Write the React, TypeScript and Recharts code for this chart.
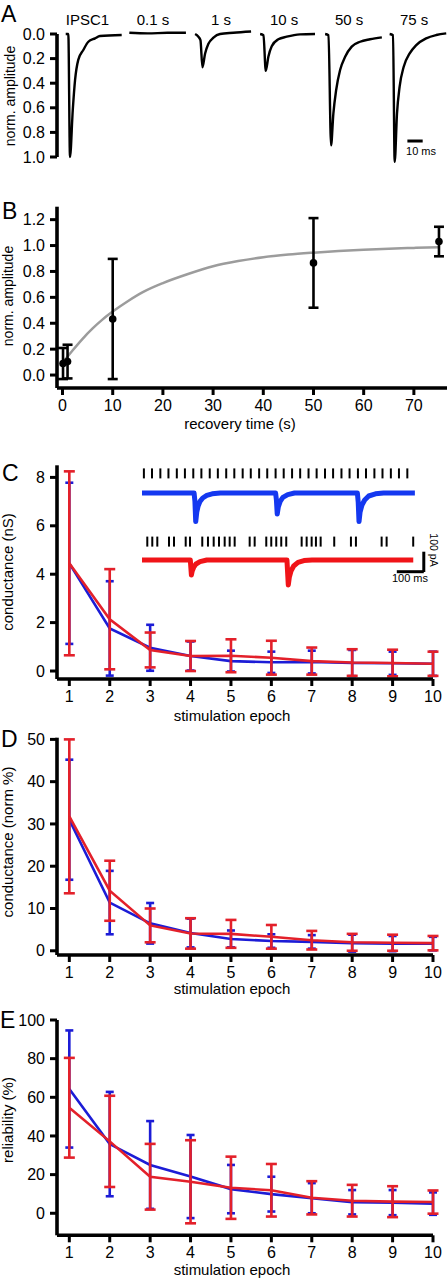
import {
  ComposedChart,
  ErrorBar,
  Line,
  LineChart,
  ReferenceLine,
  Scatter,
  XAxis,
  YAxis,
} from "recharts";

const FONT = '"Liberation Sans", Arial, Helvetica, sans-serif';
const BLUE = "#1c1cd6";
const RED = "#e3202a";
const TRACE_BLUE = "#1438f0";
const TRACE_RED = "#f01418";

// ---------------------------------------------------------------------------
// A: example IPSCs, [ms from sweep onset, normalised amplitude]
// ---------------------------------------------------------------------------

const sweepLabels = ["IPSC1", "0.1 s", "1 s", "10 s", "50 s", "75 s"];
const sweepIpsc1 = [[0, 0], [1.7, 0], [2.8, 1.0], [4.6, 0.62], [6.1, 0.375], [8.2, 0.21], [11.5, 0.13], [14.8, 0.063], [19.2, 0.035], [22.4, 0.016], [36.6, 0.008]];
const sweep01s = [[0, -0.01], [12, -0.005], [25, -0.01], [37, -0.01]];
const sweep1s = [[0, 0], [2, 0.02], [3.5, 0.05], [4.8, 0.27], [6.5, 0.16], [8.7, 0.08], [12, 0.03], [16.3, 0], [25, -0.01], [36.6, -0.02]];
const sweep10s = [[0, 0], [2.2, 0.01], [3.7, 0.3], [5.4, 0.185], [7.6, 0.1], [11.9, 0.043], [17.4, 0.022], [26.1, 0.003], [35.9, 0]];
const sweep50s = [[0, 0], [2.2, 0.01], [3.9, 0.905], [5.4, 0.647], [7.2, 0.457], [9.8, 0.293], [13.1, 0.185], [17.4, 0.103], [22.9, 0.063], [29.4, 0.043], [37.1, 0.027]];
const sweep75s = [[0, 0], [2.2, 0.01], [3.3, 1.04], [4.8, 0.647], [6.5, 0.43], [9.2, 0.266], [13.1, 0.158], [17.4, 0.09], [23.9, 0.035], [30.5, 0.008], [37, -0.005]];

// layout of the sweeps along the shared time axis (ms)
const SWEEP_START_MS = [5.7, 47.3, 90.3, 132.8, 175.3, 217.5];
const SWEEP_LABEL_MS = [19.9, 62.8, 107.3, 148.5, 191, 233.5];

// ---------------------------------------------------------------------------
// B: recovery from depression
// ---------------------------------------------------------------------------

const recoveryTime = [0.1, 1, 10, 50, 75];
const recoveryAmp = [0.089, 0.104, 0.433, 0.866, 1.031];
const recoveryErr = [0.12, 0.13, 0.464, 0.346, 0.114];
const fitTime = [0.1, 2, 4, 6, 8, 10, 13, 16, 20, 25, 30, 35, 40, 45, 50, 55, 60, 65, 70, 75];
const fitAmp = [0.1, 0.19, 0.28, 0.36, 0.43, 0.49, 0.57, 0.64, 0.71, 0.78, 0.84, 0.88, 0.91, 0.93, 0.945, 0.958, 0.968, 0.976, 0.982, 0.987];

// ---------------------------------------------------------------------------
// C-E: per stimulation epoch, blue = regular train, red = irregular train
// ---------------------------------------------------------------------------

const epochs = [1, 2, 3, 4, 5, 6, 7, 8, 9, 10];

const condBlue = [4.45, 1.76, 0.96, 0.62, 0.41, 0.36, 0.37, 0.33, 0.32, 0.3];
const condBlueErr = [3.33, 1.95, 0.95, 0.6, 0.43, 0.44, 0.47, 0.54, 0.48, 0.5];
const condRed = [4.45, 2.14, 0.87, 0.62, 0.63, 0.55, 0.41, 0.35, 0.33, 0.3];
const condRedErr = [3.8, 2.07, 0.72, 0.62, 0.68, 0.7, 0.56, 0.55, 0.55, 0.5];

const normBlue = [31.0, 11.4, 6.5, 4.2, 2.8, 2.3, 2.1, 1.8, 1.7, 1.7];
const normBlueErr = [14.2, 7.5, 4.8, 3.4, 2.0, 1.6, 1.6, 2.0, 1.8, 1.6];
const normRed = [31.8, 14.2, 6.0, 4.1, 4.0, 3.3, 2.5, 2.0, 1.9, 1.8];
const normRedErr = [18.2, 7.1, 4.0, 3.6, 3.3, 2.8, 2.2, 2.0, 1.9, 1.7];

const relBlue = [64.3, 35.8, 25.0, 19.0, 12.5, 9.9, 7.8, 5.7, 5.5, 5.0];
const relBlueErr = [30.3, 27.0, 22.7, 21.5, 12.5, 9.0, 7.8, 6.3, 6.5, 5.8];
const relRed = [54.6, 37.2, 18.9, 16.3, 13.2, 11.9, 8.0, 6.5, 6.0, 5.8];
const relRedErr = [25.8, 23.6, 17.0, 21.5, 16.1, 13.6, 8.6, 8.2, 8.0, 6.0];

// C inset: example currents (ms, pA from baseline) and stimulus times (ms)
const blueSweep = [[0, 0], [193, 0], [196, -40], [199, -143], [203, -95], [208, -65], [215, -42], [225, -25], [240, -12], [260, -4], [290, 0], [495, 0], [498, -35], [501, -105], [505, -70], [512, -42], [522, -22], [540, -8], [565, 0], [798, 0], [801, -45], [804, -143], [808, -95], [815, -60], [825, -35], [840, -15], [865, -4], [895, 0], [1011, 0]];
const redSweep = [[0, 0], [179, 0], [183, -75], [186, -55], [192, -35], [200, -20], [215, -8], [240, 0], [537, 0], [542, -125], [546, -85], [552, -55], [562, -30], [578, -12], [600, -3], [630, 0], [1005, 0]];
const blueStimuli = [7, 37, 68, 98, 129, 159, 190, 220, 251, 281, 312, 342, 373, 403, 434, 464, 495, 525, 556, 586, 617, 647, 678, 708, 739, 769, 800, 830, 861, 891, 922, 952, 983];
const redStimuli = [19.6, 38.1, 56.7, 100, 118.5, 161.9, 177.8, 223.3, 244.4, 265.6, 285.2, 306.3, 324.8, 343.3, 398.9, 417.4, 460.4, 478.9, 497.4, 515.9, 534.4, 591.5, 610, 628.5, 644.4, 661.9, 712.2, 774.1, 792.6, 887.8, 906.3, 1004.8];

// inset stacking offsets (pA)
const RED_OFFSET = -335;
const BLUE_RASTER_Y = 98;
const RED_RASTER_Y = -243;

// ---------------------------------------------------------------------------
// shared styles
// ---------------------------------------------------------------------------

const axisLine = { stroke: "#000", strokeWidth: 3.6 };
const tickLine = { stroke: "#000", strokeWidth: 3 };
const tickText = { fill: "#000", fontSize: 16, fontFamily: FONT };

const toPoints = (pairs: number[][], shift = 0, offset = 0) =>
  pairs.map(([t, v]) => ({ t: t + shift, v: v + offset }));

function PanelA() {
  const sweeps = [sweepIpsc1, sweep01s, sweep1s, sweep10s, sweep50s, sweep75s];
  return (
    <div style={{ position: "absolute", left: 0, top: 0 }}>
      <ComposedChart width={447} height={175} margin={{ top: 10.31, right: 0, bottom: 8.16, left: 0 }}>
        <XAxis
          type="number"
          dataKey="t"
          orientation="top"
          domain={[0, 255]}
          ticks={SWEEP_LABEL_MS}
          interval={0}
          tickFormatter={(v: number) => sweepLabels[SWEEP_LABEL_MS.indexOf(v)] ?? ""}
          axisLine={false}
          tickLine={false}
          tickSize={0}
          tickMargin={5.3}
          height={20}
          tick={{ ...tickText, fontSize: 15 }}
        />
        <YAxis
          type="number"
          domain={[-0.03, 1.08]}
          reversed
          ticks={[0, 0.2, 0.4, 0.6, 0.8, 1.0]}
          interval={0}
          tickFormatter={(v: number) => v.toFixed(1)}
          width={57}
          axisLine={false}
          tickLine={tickLine}
          tickSize={7}
          tickMargin={5}
          tick={tickText}
        />
        <ReferenceLine segment={[{ x: 0, y: 0 }, { x: 0, y: 1 }]} stroke="#000" strokeWidth={3.6} ifOverflow="visible" />
        {sweeps.map((s, i) => (
          <Line
            key={sweepLabels[i]}
            data={toPoints(s, SWEEP_START_MS[i])}
            dataKey="v"
            type="monotone"
            stroke="#000"
            strokeWidth={2.4}
            dot={false}
            isAnimationActive={false}
          />
        ))}
        {/* 10 ms scale bar */}
        <ReferenceLine segment={[{ x: 229.1, y: 0.87 }, { x: 239.1, y: 0.87 }]} stroke="#000" strokeWidth={3} ifOverflow="visible" />
      </ComposedChart>
    </div>
  );
}

function PanelB() {
  const points = recoveryTime.map((t, i) => ({ t, v: recoveryAmp[i], err: recoveryErr[i] }));
  const fit = fitTime.map((t, i) => ({ t, v: fitAmp[i] }));
  return (
    <div style={{ position: "absolute", left: 0, top: 170 }}>
      <ComposedChart width={447} height={265} margin={{ top: 36.7, right: 0, bottom: 0, left: 0 }}>
        <XAxis
          type="number"
          dataKey="t"
          domain={[-1.1, 76.6]}
          ticks={[0, 10, 20, 30, 40, 50, 60, 70]}
          interval={0}
          height={47}
          axisLine={axisLine}
          tickLine={tickLine}
          tickSize={7}
          tickMargin={5}
          tick={tickText}
        />
        <YAxis
          type="number"
          domain={[-0.1, 1.3]}
          ticks={[0, 0.2, 0.4, 0.6, 0.8, 1.0, 1.2]}
          interval={0}
          tickFormatter={(v: number) => v.toFixed(1)}
          width={57}
          axisLine={axisLine}
          tickLine={tickLine}
          tickSize={7}
          tickMargin={5}
          tick={tickText}
        />
        <Line data={fit} dataKey="v" type="monotone" stroke="#9c9c9c" strokeWidth={2.5} dot={false} isAnimationActive={false} />
        <Scatter
          data={points}
          dataKey="v"
          isAnimationActive={false}
          shape={(p: any) => <circle cx={p.cx} cy={p.cy} r={3.8} fill="#000" />}
        >
          <ErrorBar dataKey="err" direction="y" width={5} stroke="#000" strokeWidth={2.6} />
        </Scatter>
      </ComposedChart>
    </div>
  );
}

interface EpochPanelProps {
  top: number;
  height: number;
  marginTop: number;
  xAxisHeight: number;
  labelGap: number;
  yDomain: [number, number];
  yTicks: number[];
  blue: number[];
  blueErr: number[];
  red: number[];
  redErr: number[];
}

function EpochPanel(p: EpochPanelProps) {
  const data = epochs.map((e, i) => ({
    epoch: e,
    blue: p.blue[i],
    blueErr: p.blueErr[i],
    red: p.red[i],
    redErr: p.redErr[i],
  }));
  return (
    <div style={{ position: "absolute", left: 0, top: p.top }}>
      <LineChart width={447} height={p.height} data={data} margin={{ top: p.marginTop, right: 14, bottom: 0, left: 0 }}>
        <XAxis
          type="number"
          dataKey="epoch"
          domain={[0.695, 10]}
          ticks={epochs}
          interval={0}
          height={p.xAxisHeight}
          axisLine={axisLine}
          tickLine={tickLine}
          tickSize={7}
          tickMargin={p.labelGap}
          tick={tickText}
        />
        <YAxis
          type="number"
          domain={p.yDomain}
          ticks={p.yTicks}
          interval={0}
          width={57}
          axisLine={axisLine}
          tickLine={tickLine}
          tickSize={7}
          tickMargin={5}
          tick={tickText}
        />
        <Line dataKey="blue" stroke={BLUE} strokeWidth={2.6} dot={false} isAnimationActive={false}>
          <ErrorBar dataKey="blueErr" direction="y" width={4} stroke={BLUE} strokeWidth={2.6} />
        </Line>
        <Line dataKey="red" stroke={RED} strokeWidth={2.6} dot={false} isAnimationActive={false}>
          <ErrorBar dataKey="redErr" direction="y" width={5.5} stroke={RED} strokeWidth={2.6} />
        </Line>
      </LineChart>
    </div>
  );
}

const tickMark = (color: string) => (p: any) => (
  <line x1={p.cx} x2={p.cx} y1={p.cy - 5} y2={p.cy + 5} stroke={color} strokeWidth={2} />
);

function InsetC() {
  return (
    <div style={{ position: "absolute", left: 142, top: 465 }}>
      <ComposedChart width={305} height={128} margin={{ top: 0, right: 0, bottom: 0, left: 0 }}>
        <XAxis type="number" dataKey="t" domain={[0, 1130]} hide />
        <YAxis type="number" domain={[-500, 140]} hide />
        <Line data={toPoints(blueSweep)} dataKey="v" type="linear" stroke={TRACE_BLUE} strokeWidth={5} strokeLinejoin="round" dot={false} isAnimationActive={false} />
        <Line data={toPoints(redSweep, 0, RED_OFFSET)} dataKey="v" type="linear" stroke={TRACE_RED} strokeWidth={5} strokeLinejoin="round" dot={false} isAnimationActive={false} />
        <Scatter data={blueStimuli.map((t) => ({ t, y: BLUE_RASTER_Y }))} dataKey="y" shape={tickMark("#000")} isAnimationActive={false} />
        <Scatter data={redStimuli.map((t) => ({ t, y: RED_RASTER_Y }))} dataKey="y" shape={tickMark("#000")} isAnimationActive={false} />
        {/* 100 ms / 100 pA scale bar */}
        <ReferenceLine segment={[{ x: 944, y: -393.5 }, { x: 1044, y: -393.5 }]} stroke="#000" strokeWidth={3} ifOverflow="visible" />
        <ReferenceLine segment={[{ x: 1044, y: -395 }, { x: 1044, y: -293.5 }]} stroke="#000" strokeWidth={3} ifOverflow="visible" />
      </ComposedChart>
    </div>
  );
}

function Annotations() {
  const t = { fontFamily: FONT, fill: "#000" };
  return (
    <svg width={447} height={1280} style={{ position: "absolute", left: 0, top: 0, pointerEvents: "none" }}>
      <g {...t} fontSize={23}>
        <text x={1} y={22}>A</text>
        <text x={2} y={218.5}>B</text>
        <text x={2} y={480.5}>C</text>
        <text x={1} y={747}>D</text>
        <text x={0} y={1028}>E</text>
      </g>
      <g {...t} fontSize={14} textAnchor="middle">
        <text transform="translate(14.5,96) rotate(-90)">norm. amplitude</text>
        <text transform="translate(13,296) rotate(-90)">norm. amplitude</text>
      </g>
      <g {...t} fontSize={15} textAnchor="middle">
        <text transform="translate(13,572) rotate(-90)">conductance (nS)</text>
        <text transform="translate(13,842) rotate(-90)">conductance (norm %)</text>
        <text transform="translate(12.5,1120) rotate(-90)">reliability (%)</text>
        <text x={240} y={429}>recovery time (s)</text>
        <text x={232} y={720.5}>stimulation epoch</text>
        <text x={232} y={994}>stimulation epoch</text>
        <text x={232} y={1275}>stimulation epoch</text>
      </g>
      <g {...t} fontSize={11} textAnchor="middle">
        <text x={421} y={155}>10 ms</text>
        <text x={410} y={582}>100 ms</text>
        <text fontSize={10.5} transform="translate(430,550) rotate(90)">100 pA</text>
      </g>
    </svg>
  );
}

export default function App() {
  return (
    <div style={{ position: "absolute", left: 0, top: 0, width: 447, height: 1280, background: "#fff", fontFamily: FONT }}>
      <PanelA />
      <PanelB />
      <EpochPanel
        top={440}
        height={285}
        marginTop={25.3}
        xAxisHeight={46}
        labelGap={5}
        yDomain={[-0.33, 8.5]}
        yTicks={[0, 2, 4, 6, 8]}
        blue={condBlue}
        blueErr={condBlueErr}
        red={condRed}
        redErr={condRedErr}
      />
      <InsetC />
      <EpochPanel
        top={725}
        height={275}
        marginTop={12.7}
        xAxisHeight={45}
        labelGap={5}
        yDomain={[-1.0, 50.4]}
        yTicks={[0, 10, 20, 30, 40, 50]}
        blue={normBlue}
        blueErr={normBlueErr}
        red={normRed}
        redErr={normRedErr}
      />
      <EpochPanel
        top={1000}
        height={280}
        marginTop={20}
        xAxisHeight={44.7}
        labelGap={4}
        yDomain={[-11.4, 100]}
        yTicks={[0, 20, 40, 60, 80, 100]}
        blue={relBlue}
        blueErr={relBlueErr}
        red={relRed}
        redErr={relRedErr}
      />
      <Annotations />
    </div>
  );
}
